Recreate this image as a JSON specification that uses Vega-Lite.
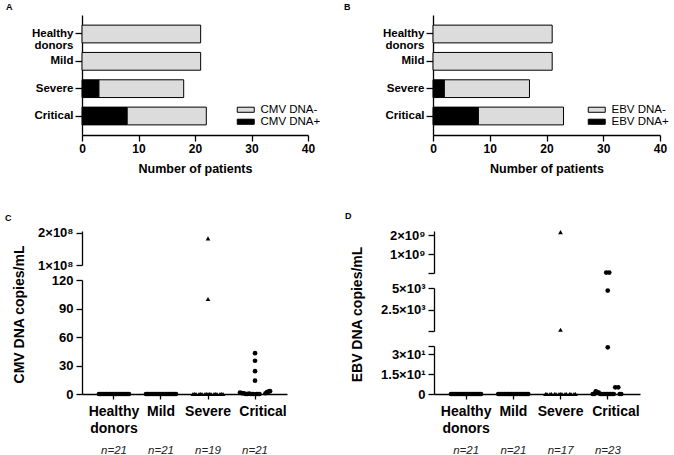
{
  "$schema": "https://vega.github.io/schema/vega-lite/v6.json",
  "padding": {"left": 5, "top": 3, "right": 0, "bottom": 2},
  "background": "white",
  "config": {
    "font": "Liberation Sans",
    "view": {"stroke": null},
    "axis": {
      "grid": false, "domainColor": "black", "tickColor": "black", "labelColor": "black", "titleColor": "black",
      "labelFont": "Liberation Sans", "titleFont": "Liberation Sans", "labelFontWeight": "bold", "titleFontWeight": "bold",
      "domainWidth": 1.3, "tickWidth": 1.3, "labelOverlap": false, "labelFlush": false
    },
    "title": {"font": "Liberation Sans", "fontWeight": "bold", "fontSize": 9, "color": "black", "anchor": "start", "frame": "group"}
  },
  "datasets": {
    "barsA": [
      {"group": "Healthy donors", "status": "CMV DNA-", "count": 21},
      {"group": "Mild", "status": "CMV DNA-", "count": 21},
      {"group": "Severe", "status": "CMV DNA+", "count": 3},
      {"group": "Severe", "status": "CMV DNA-", "count": 15},
      {"group": "Critical", "status": "CMV DNA+", "count": 8},
      {"group": "Critical", "status": "CMV DNA-", "count": 14}
    ],
    "barsB": [
      {"group": "Healthy donors", "status": "EBV DNA-", "count": 21},
      {"group": "Mild", "status": "EBV DNA-", "count": 21},
      {"group": "Severe", "status": "EBV DNA+", "count": 2},
      {"group": "Severe", "status": "EBV DNA-", "count": 15},
      {"group": "Critical", "status": "EBV DNA+", "count": 8},
      {"group": "Critical", "status": "EBV DNA-", "count": 15}
    ],
    "ptsC": [
      {"group": "Healthy donors", "value": 0, "rank": 0}, {"group": "Healthy donors", "value": 0, "rank": 1}, {"group": "Healthy donors", "value": 0, "rank": 2}, {"group": "Healthy donors", "value": 0, "rank": 3}, {"group": "Healthy donors", "value": 0, "rank": 4}, {"group": "Healthy donors", "value": 0, "rank": 5}, {"group": "Healthy donors", "value": 0, "rank": 6}, {"group": "Healthy donors", "value": 0, "rank": 7}, {"group": "Healthy donors", "value": 0, "rank": 8}, {"group": "Healthy donors", "value": 0, "rank": 9}, {"group": "Healthy donors", "value": 0, "rank": 10}, {"group": "Healthy donors", "value": 0, "rank": 11}, {"group": "Healthy donors", "value": 0, "rank": 12}, {"group": "Healthy donors", "value": 0, "rank": 13}, {"group": "Healthy donors", "value": 0, "rank": 14}, {"group": "Healthy donors", "value": 0, "rank": 15}, {"group": "Healthy donors", "value": 0, "rank": 16}, {"group": "Healthy donors", "value": 0, "rank": 17}, {"group": "Healthy donors", "value": 0, "rank": 18}, {"group": "Healthy donors", "value": 0, "rank": 19}, {"group": "Healthy donors", "value": 0, "rank": 20},
      {"group": "Mild", "value": 0, "rank": 0}, {"group": "Mild", "value": 0, "rank": 1}, {"group": "Mild", "value": 0, "rank": 2}, {"group": "Mild", "value": 0, "rank": 3}, {"group": "Mild", "value": 0, "rank": 4}, {"group": "Mild", "value": 0, "rank": 5}, {"group": "Mild", "value": 0, "rank": 6}, {"group": "Mild", "value": 0, "rank": 7}, {"group": "Mild", "value": 0, "rank": 8}, {"group": "Mild", "value": 0, "rank": 9}, {"group": "Mild", "value": 0, "rank": 10}, {"group": "Mild", "value": 0, "rank": 11}, {"group": "Mild", "value": 0, "rank": 12}, {"group": "Mild", "value": 0, "rank": 13}, {"group": "Mild", "value": 0, "rank": 14}, {"group": "Mild", "value": 0, "rank": 15}, {"group": "Mild", "value": 0, "rank": 16}, {"group": "Mild", "value": 0, "rank": 17}, {"group": "Mild", "value": 0, "rank": 18}, {"group": "Mild", "value": 0, "rank": 19}, {"group": "Mild", "value": 0, "rank": 20},
      {"group": "Severe", "value": 183000000, "rank": 10}, {"group": "Severe", "value": 100, "rank": 10},
      {"group": "Severe", "value": 0, "rank": 0}, {"group": "Severe", "value": 0, "rank": 1}, {"group": "Severe", "value": 0, "rank": 2}, {"group": "Severe", "value": 0, "rank": 4}, {"group": "Severe", "value": 0, "rank": 5}, {"group": "Severe", "value": 0, "rank": 6}, {"group": "Severe", "value": 0, "rank": 8}, {"group": "Severe", "value": 0, "rank": 9}, {"group": "Severe", "value": 0, "rank": 10}, {"group": "Severe", "value": 0, "rank": 11}, {"group": "Severe", "value": 0, "rank": 12}, {"group": "Severe", "value": 0, "rank": 14}, {"group": "Severe", "value": 0, "rank": 15}, {"group": "Severe", "value": 0, "rank": 16}, {"group": "Severe", "value": 0, "rank": 18}, {"group": "Severe", "value": 0, "rank": 19}, {"group": "Severe", "value": 0, "rank": 20},
      {"group": "Critical", "value": 43, "rank": 10}, {"group": "Critical", "value": 35, "rank": 10}, {"group": "Critical", "value": 24, "rank": 10}, {"group": "Critical", "value": 14, "rank": 10},
      {"group": "Critical", "value": 1.5, "rank": 0}, {"group": "Critical", "value": 1, "rank": 1}, {"group": "Critical", "value": 0.8, "rank": 2}, {"group": "Critical", "value": 0.5, "rank": 3}, {"group": "Critical", "value": 0, "rank": 4}, {"group": "Critical", "value": 0, "rank": 5}, {"group": "Critical", "value": 0.3, "rank": 6}, {"group": "Critical", "value": 0, "rank": 7}, {"group": "Critical", "value": 0, "rank": 8}, {"group": "Critical", "value": 0, "rank": 9}, {"group": "Critical", "value": 0, "rank": 11}, {"group": "Critical", "value": 0, "rank": 12}, {"group": "Critical", "value": 0, "rank": 13}, {"group": "Critical", "value": 0.8, "rank": 17}, {"group": "Critical", "value": 2, "rank": 18}, {"group": "Critical", "value": 2.5, "rank": 19}, {"group": "Critical", "value": 3, "rank": 20}
    ],
    "ptsD": [
      {"group": "Healthy donors", "value": 0, "rank": 0}, {"group": "Healthy donors", "value": 0, "rank": 1}, {"group": "Healthy donors", "value": 0, "rank": 2}, {"group": "Healthy donors", "value": 0, "rank": 3}, {"group": "Healthy donors", "value": 0, "rank": 4}, {"group": "Healthy donors", "value": 0, "rank": 5}, {"group": "Healthy donors", "value": 0, "rank": 6}, {"group": "Healthy donors", "value": 0, "rank": 7}, {"group": "Healthy donors", "value": 0, "rank": 8}, {"group": "Healthy donors", "value": 0, "rank": 9}, {"group": "Healthy donors", "value": 0, "rank": 10}, {"group": "Healthy donors", "value": 0, "rank": 11}, {"group": "Healthy donors", "value": 0, "rank": 12}, {"group": "Healthy donors", "value": 0, "rank": 13}, {"group": "Healthy donors", "value": 0, "rank": 14}, {"group": "Healthy donors", "value": 0, "rank": 15}, {"group": "Healthy donors", "value": 0, "rank": 16}, {"group": "Healthy donors", "value": 0, "rank": 17}, {"group": "Healthy donors", "value": 0, "rank": 18}, {"group": "Healthy donors", "value": 0, "rank": 19}, {"group": "Healthy donors", "value": 0, "rank": 20},
      {"group": "Mild", "value": 0, "rank": 0}, {"group": "Mild", "value": 0, "rank": 1}, {"group": "Mild", "value": 0, "rank": 2}, {"group": "Mild", "value": 0, "rank": 3}, {"group": "Mild", "value": 0, "rank": 4}, {"group": "Mild", "value": 0, "rank": 5}, {"group": "Mild", "value": 0, "rank": 6}, {"group": "Mild", "value": 0, "rank": 7}, {"group": "Mild", "value": 0, "rank": 8}, {"group": "Mild", "value": 0, "rank": 9}, {"group": "Mild", "value": 0, "rank": 10}, {"group": "Mild", "value": 0, "rank": 11}, {"group": "Mild", "value": 0, "rank": 12}, {"group": "Mild", "value": 0, "rank": 13}, {"group": "Mild", "value": 0, "rank": 14}, {"group": "Mild", "value": 0, "rank": 15}, {"group": "Mild", "value": 0, "rank": 16}, {"group": "Mild", "value": 0, "rank": 17}, {"group": "Mild", "value": 0, "rank": 18}, {"group": "Mild", "value": 0, "rank": 19}, {"group": "Mild", "value": 0, "rank": 20},
      {"group": "Severe", "value": 2160000000, "rank": 10}, {"group": "Severe", "value": 150, "rank": 10},
      {"group": "Severe", "value": 0, "rank": 0}, {"group": "Severe", "value": 0, "rank": 1}, {"group": "Severe", "value": 0, "rank": 3}, {"group": "Severe", "value": 0, "rank": 4}, {"group": "Severe", "value": 0, "rank": 6}, {"group": "Severe", "value": 0, "rank": 7}, {"group": "Severe", "value": 0, "rank": 9}, {"group": "Severe", "value": 0, "rank": 10}, {"group": "Severe", "value": 0, "rank": 11}, {"group": "Severe", "value": 0, "rank": 13}, {"group": "Severe", "value": 0, "rank": 14}, {"group": "Severe", "value": 0, "rank": 16}, {"group": "Severe", "value": 0, "rank": 17}, {"group": "Severe", "value": 0, "rank": 19}, {"group": "Severe", "value": 0, "rank": 20},
      {"group": "Critical", "value": 20000000, "rank": 9}, {"group": "Critical", "value": 20000000, "rank": 11}, {"group": "Critical", "value": 4700, "rank": 10}, {"group": "Critical", "value": 35, "rank": 10},
      {"group": "Critical", "value": 5, "rank": 15}, {"group": "Critical", "value": 5, "rank": 17},
      {"group": "Critical", "value": 2, "rank": 2}, {"group": "Critical", "value": 1.5, "rank": 3}, {"group": "Critical", "value": 1, "rank": 4},
      {"group": "Critical", "value": 0, "rank": 0}, {"group": "Critical", "value": 0, "rank": 1}, {"group": "Critical", "value": 0, "rank": 5}, {"group": "Critical", "value": 0, "rank": 6}, {"group": "Critical", "value": 0, "rank": 7}, {"group": "Critical", "value": 0, "rank": 8}, {"group": "Critical", "value": 0, "rank": 9}, {"group": "Critical", "value": 0, "rank": 10}, {"group": "Critical", "value": 0, "rank": 11}, {"group": "Critical", "value": 0, "rank": 12}, {"group": "Critical", "value": 0, "rank": 13}, {"group": "Critical", "value": 0, "rank": 14}, {"group": "Critical", "value": 0, "rank": 18}, {"group": "Critical", "value": 0, "rank": 19}
    ],
    "groups": [
      {"group": "Healthy donors"}, {"group": "Mild"}, {"group": "Severe"}, {"group": "Critical"}
    ]
  },
  "spacing": 37,
  "vconcat": [
    {
      "spacing": 23,
      "resolve": {"scale": {"color": "independent"}, "legend": {"color": "independent"}},
      "hconcat": [
        {
          "width": 226, "height": 120,
          "title": {"text": "A", "dx": -76, "offset": 3},
          "data": {"name": "barsA"},
          "mark": {"type": "bar", "stroke": "black", "strokeWidth": 1},
          "encoding": {
            "y": {"field": "group", "type": "nominal", "sort": ["Healthy donors", "Mild", "Severe", "Critical"],
                  "scale": {"paddingInner": 0.35, "paddingOuter": 0.37},
                  "axis": {"title": null, "tickSize": 7, "labelPadding": 2, "labelFontSize": 11.5, "labelLineHeight": 12,
                           "labelExpr": "datum.value == 'Healthy donors' ? ['Healthy', 'donors'] : datum.value"}},
            "x": {"field": "count", "type": "quantitative", "stack": "zero", "scale": {"domain": [0, 40], "nice": false},
                  "axis": {"values": [0, 10, 20, 30, 40], "title": "Number of patients", "titleFontSize": 12.5, "titlePadding": 8, "labelFontSize": 12, "tickSize": 6, "labelPadding": 2}},
            "color": {"field": "status", "type": "nominal",
                      "scale": {"domain": ["CMV DNA-", "CMV DNA+"], "range": ["#dcdcdc", "black"]},
                      "legend": {"orient": "none", "legendX": 158, "legendY": 89, "title": null, "symbolType": "M-2,-0.6H2V0.6H-2Z", "symbolSize": 72,
                                 "symbolStrokeColor": "black", "symbolStrokeWidth": 1, "labelFontSize": 11.5, "labelColor": "black", "labelOffset": 9, "rowPadding": -1, "padding": 0}},
            "order": {"field": "status", "sort": "ascending"}
          }
        },
        {
          "width": 227, "height": 120,
          "title": {"text": "B", "dx": -89, "offset": 3},
          "data": {"name": "barsB"},
          "mark": {"type": "bar", "stroke": "black", "strokeWidth": 1},
          "encoding": {
            "y": {"field": "group", "type": "nominal", "sort": ["Healthy donors", "Mild", "Severe", "Critical"],
                  "scale": {"paddingInner": 0.35, "paddingOuter": 0.37},
                  "axis": {"title": null, "tickSize": 7, "labelPadding": 2, "labelFontSize": 11.5, "labelLineHeight": 12,
                           "labelExpr": "datum.value == 'Healthy donors' ? ['Healthy', 'donors'] : datum.value"}},
            "x": {"field": "count", "type": "quantitative", "stack": "zero", "scale": {"domain": [0, 40], "nice": false},
                  "axis": {"values": [0, 10, 20, 30, 40], "title": "Number of patients", "titleFontSize": 12.5, "titlePadding": 8, "labelFontSize": 12, "tickSize": 6, "labelPadding": 2}},
            "color": {"field": "status", "type": "nominal",
                      "scale": {"domain": ["EBV DNA-", "EBV DNA+"], "range": ["#dcdcdc", "black"]},
                      "legend": {"orient": "none", "legendX": 158, "legendY": 89, "title": null, "symbolType": "M-2,-0.6H2V0.6H-2Z", "symbolSize": 72,
                                 "symbolStrokeColor": "black", "symbolStrokeWidth": 1, "labelFontSize": 11.5, "labelColor": "black", "labelOffset": 9, "rowPadding": -1, "padding": 0}},
            "order": {"field": "status", "sort": "ascending"}
          }
        }
      ]
    },
    {
      "spacing": 58,
      "hconcat": [
        {
          "bounds": "flush",
          "spacing": 15,
          "vconcat": [
            {
              "width": 205, "height": 34,
              "title": {"text": "C", "dx": -77, "offset": 4},
              "data": {"name": "ptsC"},
              "transform": [{"filter": "datum.value >= 1000000"}],
              "mark": {"type": "point", "filled": true, "opacity": 1, "color": "black", "size": 22},
              "encoding": {
                "x": {"field": "group", "type": "nominal", "scale": {"domain": ["Healthy donors", "Mild", "Severe", "Critical"], "paddingInner": 0, "paddingOuter": 0.18}, "axis": null},
                "xOffset": {"field": "rank", "type": "quantitative", "scale": {"domain": [0, 20], "range": [8.5, 38.5]}},
                "y": {"field": "value", "type": "quantitative", "scale": {"domain": [100000000, 206000000], "nice": false, "zero": false},
                      "axis": {"title": null, "values": [100000000, 200000000], "labelExpr": "datum.value == 100000000 ? '1×10⁸' : '2×10⁸'", "labelFontSize": 13, "tickSize": 6, "labelPadding": 3}},
                "shape": {"field": "group", "type": "nominal", "scale": {"domain": ["Healthy donors", "Mild", "Severe", "Critical"], "range": ["circle", "circle", "triangle-up", "circle"]}, "legend": null}
              }
            },
            {
              "width": 205, "height": 114,
              "data": {"name": "ptsC"},
              "transform": [{"filter": "datum.value < 1000000"}],
              "mark": {"type": "point", "filled": true, "opacity": 1, "color": "black", "size": 22},
              "encoding": {
                "x": {"field": "group", "type": "nominal", "scale": {"domain": ["Healthy donors", "Mild", "Severe", "Critical"], "paddingInner": 0, "paddingOuter": 0.18},
                      "axis": {"title": null, "labelAngle": 0, "labelFontSize": 14, "labelLineHeight": 17, "tickSize": 5, "labelPadding": 5,
                               "labelOffset": {"condition": {"test": "datum.value == 'Critical'", "value": 8}, "value": 0},
                               "labelExpr": "datum.value == 'Healthy donors' ? ['Healthy', 'donors'] : datum.value"}},
                "xOffset": {"field": "rank", "type": "quantitative", "scale": {"domain": [0, 20], "range": [8.5, 38.5]}},
                "y": {"field": "value", "type": "quantitative", "scale": {"domain": [0, 120], "nice": false},
                      "axis": {"title": "CMV DNA copies/mL", "titleFontSize": 14, "titleX": -63, "titleY": 34, "titleAngle": -90, "titleAlign": "center", "titleBaseline": "middle",
                               "values": [0, 30, 60, 90, 120], "labelFontSize": 13, "tickSize": 6, "labelPadding": 3}},
                "shape": {"field": "group", "type": "nominal", "scale": {"domain": ["Healthy donors", "Mild", "Severe", "Critical"], "range": ["circle", "circle", "triangle-up", "circle"]}, "legend": null}
              }
            },
            {
              "width": 205, "height": 1,
              "data": {"name": "groups"},
              "mark": {"type": "tick", "opacity": 0},
              "encoding": {
                "x": {"field": "group", "type": "nominal", "scale": {"domain": ["Healthy donors", "Mild", "Severe", "Critical"], "paddingInner": 0, "paddingOuter": 0.18},
                      "axis": {"title": null, "labelAngle": 0, "domain": false, "ticks": false, "labelPadding": 34, "labelFontSize": 11.5, "labelFontStyle": "italic", "labelFontWeight": "normal", "labelColor": "#222",
                               "labelExpr": "datum.value == 'Severe' ? 'n=19' : 'n=21'"}}
              }
            }
          ]
        },
        {
          "bounds": "flush",
          "spacing": 15,
          "vconcat": [
            {
              "width": 206, "height": 42,
              "title": {"text": "D", "dx": -89, "offset": 8},
              "data": {"name": "ptsD"},
              "transform": [{"filter": "datum.value >= 6000"}],
              "mark": {"type": "point", "filled": true, "opacity": 1, "color": "black", "size": 22},
              "encoding": {
                "x": {"field": "group", "type": "nominal", "scale": {"domain": ["Healthy donors", "Mild", "Severe", "Critical"], "paddingInner": 0, "paddingOuter": 0.18}, "axis": null},
                "xOffset": {"field": "rank", "type": "quantitative", "scale": {"domain": [0, 20], "range": [8.5, 38.5]}},
                "y": {"field": "value", "type": "quantitative", "scale": {"domain": [0, 2220000000], "nice": false},
                      "axis": {"title": null, "values": [0, 1000000000, 2000000000], "labelExpr": "datum.value == 1000000000 ? '1×10⁹' : datum.value == 2000000000 ? '2×10⁹' : ''", "labelFontSize": 13, "tickSize": 6, "labelPadding": 3}},
                "shape": {"field": "group", "type": "nominal", "scale": {"domain": ["Healthy donors", "Mild", "Severe", "Critical"], "range": ["circle", "circle", "triangle-up", "circle"]}, "legend": null}
              }
            },
            {
              "width": 206, "height": 43,
              "data": {"name": "ptsD"},
              "transform": [{"filter": "datum.value >= 40 && datum.value < 6000"}],
              "mark": {"type": "point", "filled": true, "opacity": 1, "color": "black", "size": 22},
              "encoding": {
                "x": {"field": "group", "type": "nominal", "scale": {"domain": ["Healthy donors", "Mild", "Severe", "Critical"], "paddingInner": 0, "paddingOuter": 0.18}, "axis": null},
                "xOffset": {"field": "rank", "type": "quantitative", "scale": {"domain": [0, 20], "range": [8.5, 38.5]}},
                "y": {"field": "value", "type": "quantitative", "scale": {"domain": [0, 5000], "nice": false},
                      "axis": {"title": null, "values": [0, 2500, 5000], "labelExpr": "datum.value == 2500 ? '2.5×10³' : datum.value == 5000 ? '5×10³' : ''", "labelFontSize": 13, "tickSize": 6, "labelPadding": 3}},
                "shape": {"field": "group", "type": "nominal", "scale": {"domain": ["Healthy donors", "Mild", "Severe", "Critical"], "range": ["circle", "circle", "triangle-up", "circle"]}, "legend": null}
              }
            },
            {
              "width": 206, "height": 48,
              "data": {"name": "ptsD"},
              "transform": [{"filter": "datum.value < 40"}],
              "mark": {"type": "point", "filled": true, "opacity": 1, "color": "black", "size": 22},
              "encoding": {
                "x": {"field": "group", "type": "nominal", "scale": {"domain": ["Healthy donors", "Mild", "Severe", "Critical"], "paddingInner": 0, "paddingOuter": 0.18},
                      "axis": {"title": null, "labelAngle": 0, "labelFontSize": 14, "labelLineHeight": 17, "tickSize": 5, "labelPadding": 5,
                               "labelOffset": {"condition": {"test": "datum.value == 'Critical'", "value": 8}, "value": 0},
                               "labelExpr": "datum.value == 'Healthy donors' ? ['Healthy', 'donors'] : datum.value"}},
                "xOffset": {"field": "rank", "type": "quantitative", "scale": {"domain": [0, 20], "range": [8.5, 38.5]}},
                "y": {"field": "value", "type": "quantitative", "scale": {"domain": [0, 36], "nice": false},
                      "axis": {"title": "EBV DNA copies/mL", "titleFontSize": 14, "titleX": -77, "titleY": -32, "titleAngle": -90, "titleAlign": "center", "titleBaseline": "middle",
                               "values": [0, 15, 30, 36], "labelExpr": "datum.value == 0 ? '0' : datum.value == 15 ? '1.5×10¹' : datum.value == 30 ? '3×10¹' : ''", "labelFontSize": 13, "tickSize": 6, "labelPadding": 3}},
                "shape": {"field": "group", "type": "nominal", "scale": {"domain": ["Healthy donors", "Mild", "Severe", "Critical"], "range": ["circle", "circle", "triangle-up", "circle"]}, "legend": null}
              }
            },
            {
              "width": 206, "height": 1,
              "data": {"name": "groups"},
              "mark": {"type": "tick", "opacity": 0},
              "encoding": {
                "x": {"field": "group", "type": "nominal", "scale": {"domain": ["Healthy donors", "Mild", "Severe", "Critical"], "paddingInner": 0, "paddingOuter": 0.18},
                      "axis": {"title": null, "labelAngle": 0, "domain": false, "ticks": false, "labelPadding": 34, "labelFontSize": 11.5, "labelFontStyle": "italic", "labelFontWeight": "normal", "labelColor": "#222",
                               "labelExpr": "datum.value == 'Severe' ? 'n=17' : datum.value == 'Critical' ? 'n=23' : 'n=21'"}}
              }
            }
          ]
        }
      ]
    }
  ]
}
